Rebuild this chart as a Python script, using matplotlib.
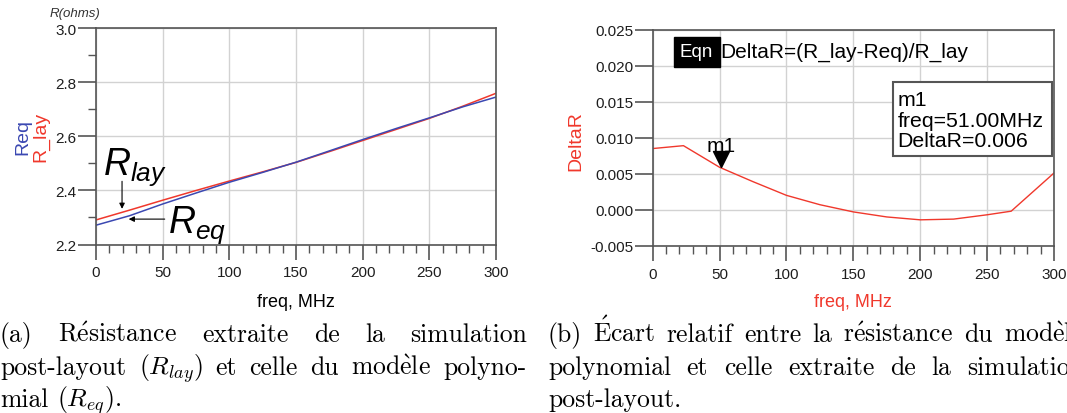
import matplotlib
matplotlib.use("Agg")
import matplotlib.pyplot as plt
from matplotlib.patches import Rectangle
from matplotlib.ticker import MultipleLocator, FormatStrFormatter

# left plot: extracted resistance vs frequency
freq = [0, 25, 50, 75, 100, 125, 150, 175, 200, 225, 250, 275, 300]
r_lay = [2.291, 2.327, 2.364, 2.400, 2.435, 2.469, 2.504, 2.544, 2.585,
         2.626, 2.667, 2.712, 2.760]
r_eq = [2.2715, 2.3063, 2.350, 2.3906, 2.4305, 2.467, 2.5048, 2.5465,
        2.5886, 2.6294, 2.6689, 2.7096, 2.7459]

# right plot: relative deviation
delta_freq = [0, 23, 50, 75, 100, 125, 150, 175, 200, 225, 250, 268, 300]
delta_r = [0.0085, 0.0089, 0.0059, 0.0039, 0.0020, 0.0007, -0.0003,
           -0.0010, -0.0014, -0.0013, -0.0007, -0.0002, 0.0051]
marker_freq = 51.0
marker_delta = 0.006

plt.rcParams['font.family'] = 'Liberation Sans'
plt.rcParams['axes.unicode_minus'] = False
plt.rcParams['mathtext.fontset'] = 'custom'
plt.rcParams['mathtext.it'] = 'Liberation Sans:italic'
plt.rcParams['mathtext.rm'] = 'Liberation Sans'

RED = '#f0382c'
BLUE = '#3b48b2'
GRID = '#d2d2d2'
FRAME = '#555555'
TICK_TXT = '#1e1e1e'

fig = plt.figure(figsize=(10.67, 4.14), dpi=100)
ax1 = fig.add_axes([0.090, 0.407, 0.375, 0.522])
ax2 = fig.add_axes([0.6117, 0.404, 0.3761, 0.5217])


def style_axes(ax):
    for s in ax.spines.values():
        s.set_color(FRAME)
        s.set_linewidth(1.2)
    ax.grid(True, which='major', color=GRID, lw=1.0)
    ax.set_axisbelow(True)
    ax.set_xlim(0, 300)
    ax.xaxis.set_major_locator(MultipleLocator(50))
    ax.xaxis.set_minor_locator(MultipleLocator(10))
    ax.tick_params(axis='both', which='both', color=FRAME, labelcolor=TICK_TXT,
                   labelsize=11)
    ax.tick_params(axis='x', which='major', length=11, width=1.2, pad=4)
    ax.tick_params(axis='x', which='minor', length=6, width=1.0)
    ax.tick_params(axis='y', which='major', length=13, width=1.2, pad=1)


# ---- left plot
style_axes(ax1)
ax1.set_ylim(2.2, 3.0)
ax1.yaxis.set_major_locator(MultipleLocator(0.2))
ax1.yaxis.set_minor_locator(MultipleLocator(0.1))
ax1.yaxis.set_major_formatter(FormatStrFormatter('%.1f'))
ax1.tick_params(axis='y', which='minor', length=6, width=1.0)
ax1.plot(freq, r_lay, color=RED, lw=1.1)
ax1.plot(freq, r_eq, color=BLUE, lw=1.1)

ax1.text(5.2, 2.461, r'$R_{lay}$', fontsize=27, va='baseline', ha='left')
ax1.annotate('', xy=(19.5, 2.332), xytext=(19.5, 2.434),
             arrowprops=dict(arrowstyle='-|>', color='k', lw=0.8,
                             mutation_scale=8, shrinkA=0, shrinkB=0))
ax1.text(54, 2.246, r'$R_{eq}$', fontsize=27, va='baseline', ha='left')
ax1.annotate('', xy=(24.5, 2.294), xytext=(51.5, 2.294),
             arrowprops=dict(arrowstyle='-|>', color='k', lw=0.8,
                             mutation_scale=8, shrinkA=0, shrinkB=0))

fig.text(0.0216, 0.669, 'Req', color=BLUE, rotation=90, ha='center',
         va='center', fontsize=14)
fig.text(0.0380, 0.669, 'R_lay', color=RED, rotation=90, ha='center',
         va='center', fontsize=14)
fig.text(0.0703, 0.966, 'R(ohms)', style='italic', ha='center', va='center',
         fontsize=9.5, color='#333333')
fig.text(0.2774, 0.2705, 'freq, MHz', ha='center', va='center', fontsize=13)

# ---- right plot
style_axes(ax2)
ax2.set_ylim(-0.005, 0.025)
ax2.yaxis.set_major_locator(MultipleLocator(0.005))
ax2.yaxis.set_major_formatter(FormatStrFormatter('%.3f'))
ax2.plot(delta_freq, delta_r, color=RED, lw=1.0)

ax2.plot(marker_freq, marker_delta, linestyle='none', color='k',
         marker=[(0, 0), (-1, 2), (1, 2), (0, 0)], markersize=23)
ax2.annotate('m1', xy=(marker_freq, marker_delta), xytext=(0, 11.5),
             textcoords='offset points', ha='center', va='baseline',
             fontsize=15)

ax2.text(0.068, 0.877, 'Eqn', transform=ax2.transAxes, color='white',
         fontsize=13.5, va='baseline', ha='left',
         bbox=dict(facecolor='black', edgecolor='black', pad=4.5))
ax2.text(0.168, 0.877, 'DeltaR=(R_lay-Req)/R_lay', transform=ax2.transAxes,
         fontsize=15, va='baseline', ha='left')

ax2.add_patch(Rectangle((0.599, 0.415), 0.396, 0.343, transform=ax2.transAxes,
                        facecolor='white', edgecolor=FRAME, lw=1.5, zorder=4))
for yy, line in zip([0.651, 0.556, 0.460],
                    ['m1', 'freq=51.00MHz', 'DeltaR=0.006']):
    ax2.text(0.610, yy, line, transform=ax2.transAxes, fontsize=15.3,
             va='baseline', ha='left', zorder=5)

fig.text(0.540, 0.659, 'DeltaR', color=RED, rotation=90, ha='center',
         va='center', fontsize=14)
fig.text(0.7998, 0.2705, 'freq, MHz', color=RED, ha='center', va='center',
         fontsize=13)

# ---- captions (justified, LaTeX-like)
CAP_SIZE = 18.5
renderer = fig.canvas.get_renderer()
W = fig.get_figwidth() * fig.dpi


def caption_line(words, x0, x1, y, justify=True):
    texts = [fig.text(0, y, w, fontsize=CAP_SIZE, family='cmr10',
                      math_fontfamily='cm', va='baseline', ha='left')
             for w in words]
    widths = [t.get_window_extent(renderer).width for t in texts]
    if justify and len(words) > 1:
        gap = (x1 - x0 - sum(widths)) / (len(words) - 1)
    else:
        gap = CAP_SIZE * 0.33 * fig.dpi / 72
    x = x0
    for t, w in zip(texts, widths):
        t.set_x(x / W)
        x += w + gap


ys = [(414 - 342) / 414, (414 - 375) / 414, (414 - 407) / 414]
caption_line(['(a)', r'$\mathrm{R\acute{e}sistance}$', 'extraite', 'de', 'la',
              'simulation'], 0, 527, ys[0])
caption_line(['post-layout', r'$(R_{lay})$', 'et', 'celle', 'du',
              r'$\mathrm{mod\grave{e}le}$', 'polyno-'], 0, 527, ys[1])
caption_line(['mial', r'$(R_{eq})$.'], 0, 527, ys[2], justify=False)

caption_line(['(b)', r'$\mathrm{\acute{E}cart}$', 'relatif', 'entre', 'la',
              r'$\mathrm{r\acute{e}sistance}$', 'du',
              r'$\mathrm{mod\grave{e}le}$'], 548, 1084, ys[0])
caption_line(['polynomial', 'et', 'celle', 'extraite', 'de', 'la',
              'simulation'], 548, 1084, ys[1])
caption_line(['post-layout.'], 548, 1084, ys[2], justify=False)

fig.savefig('out.png', dpi=100)
plt.close(fig)
